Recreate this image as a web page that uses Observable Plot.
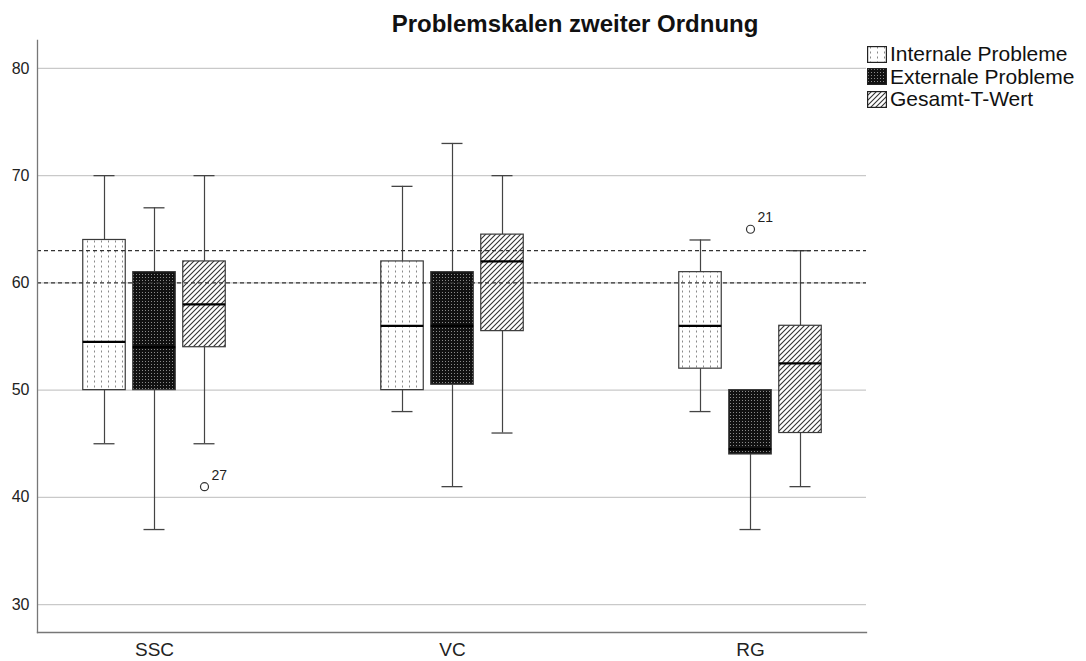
<!DOCTYPE html>
<html>
<head>
<meta charset="utf-8">
<script src="https://cdn.jsdelivr.net/npm/d3@7"></script>
<script src="https://cdn.jsdelivr.net/npm/@observablehq/plot@0.6"></script>
<style>
  body { margin: 0; background: #fff; font-family: "Liberation Sans", Arial, sans-serif; }
  #wrap { position: relative; width: 1086px; height: 661px; overflow: hidden; }
  #title { position: absolute; left: 575px; top: 10px; transform: translateX(-50%); font-size: 24px; font-weight: bold; color: #111; white-space: nowrap; }
  #legend { position: absolute; left: 867px; top: 43px; font-size: 21px; color: #111; }
  #legend .row { display: flex; align-items: center; height: 22.5px; white-space: nowrap; }
  #legend svg { margin-right: 3px; flex: none; }
  #chart { position: absolute; left: 0; top: 0; }
</style>
</head>
<body>
<svg width="0" height="0" style="position:absolute">
  <defs>
    <!-- white with vertical dotted lines -->
    <pattern id="pat-internal" patternUnits="userSpaceOnUse" width="7" height="5">
      <rect width="7" height="5" fill="#fff"></rect>
      <line x1="3.5" y1="0.5" x2="3.5" y2="2.5" stroke="#8a8a8a" stroke-width="1"></line>
    </pattern>
    <!-- black with fine grey dots -->
    <pattern id="pat-external" patternUnits="userSpaceOnUse" width="3" height="3">
      <rect width="3" height="3" fill="#111"></rect>
      <rect x="1" y="1" width="1" height="1" fill="#8a8a8a"></rect>
    </pattern>
    <!-- white with diagonal hatching -->
    <pattern id="pat-total" patternUnits="userSpaceOnUse" width="5" height="5">
      <rect width="5" height="5" fill="#fff"></rect>
      <path d="M-1,6 L6,-1 M-1,1 L1,-1 M4,6 L6,4" stroke="#333" stroke-width="1.1"></path>
    </pattern>
  </defs>
</svg>
<div id="wrap">
  <div id="chart"></div>
  <div id="title">Problemskalen zweiter Ordnung</div>
  <div id="legend"></div>
</div>
<script>
// Groups on the x axis and the three problem scales per group
const groups = ["SSC", "VC", "RG"];
const series = ["Internale Probleme", "Externale Probleme", "Gesamt-T-Wert"];
const patternIds = ["pat-internal", "pat-external", "pat-total"];

// Five-number summaries per group: [lower whisker, Q1, median, Q3, upper whisker]
const internalStats = [[45, 50, 54.5, 64, 70], [48, 50, 56, 62, 69], [48, 52, 56, 61, 64]];
const externalStats = [[37, 50, 54, 61, 67], [41, 50.5, 56, 61, 73], [37, 44, 44.5, 50, 50]];
const totalStats = [[45, 54, 58, 62, 70], [46, 55.5, 62, 64.5, 70], [41, 46, 52.5, 56, 63]];

// Outliers with their case numbers
const outlierGroups = ["SSC", "RG"];
const outlierSeries = ["Gesamt-T-Wert", "Externale Probleme"];
const outlierValues = [41, 65];
const outlierIds = ["27", "21"];

// Axis ticks and dashed cut-off lines
const yTicks = [30, 40, 50, 60, 70, 80];
const gridValues = [30, 40, 50, 60, 70, 80];
const cutoffLines = [60, 63];

const statsBySeries = [internalStats, externalStats, totalStats];
const rows = [];
statsBySeries.forEach((stats, i) => stats.forEach((s, j) => rows.push({
  group: groups[j], series: series[i], lo: s[0], q1: s[1], med: s[2], q3: s[3], hi: s[4]
})));
const outliers = outlierValues.map((v, k) => ({group: outlierGroups[k], series: outlierSeries[k], value: v, id: outlierIds[k]}));

const band = 150;      // width of one group band
const step = 50;       // spacing of boxes in a band
const boxW = 42.5;
const capW = 21;

const marks = [
  Plot.ruleY(gridValues, {stroke: "#c9c9c9", strokeWidth: 1.2})
];

series.forEach((name, i) => {
  const d = rows.filter(r => r.series === name);
  const center = step * i + step / 2;
  const off = center - band / 2;
  const boxL = center - boxW / 2, boxR = band - (center + boxW / 2);
  const capL = center - capW / 2, capR = band - (center + capW / 2);
  marks.push(
    Plot.ruleX(d, {x: "group", y1: "lo", y2: "q1", dx: off, stroke: "#444", strokeWidth: 1.2}),
    Plot.ruleX(d, {x: "group", y1: "q3", y2: "hi", dx: off, stroke: "#444", strokeWidth: 1.2}),
    Plot.tickY(d, {x: "group", y: "lo", insetLeft: capL, insetRight: capR, stroke: "#444", strokeWidth: 1.3}),
    Plot.tickY(d, {x: "group", y: "hi", insetLeft: capL, insetRight: capR, stroke: "#444", strokeWidth: 1.3}),
    Plot.barY(d, {x: "group", y1: "q1", y2: "q3", insetLeft: boxL, insetRight: boxR,
      fill: `url(#${patternIds[i]})`, stroke: "#3a3a3a", strokeWidth: 1.2}),
    Plot.tickY(d, {x: "group", y: "med", insetLeft: boxL, insetRight: boxR, stroke: "#000", strokeWidth: 2.2})
  );
  const o = outliers.filter(r => r.series === name);
  marks.push(
    Plot.dot(o, {x: "group", y: "value", dx: off, r: 4, fill: "#fff", stroke: "#333", strokeWidth: 1.2}),
    Plot.text(o, {x: "group", y: "value", text: "id", dx: off + 7, dy: -7, textAnchor: "start",
      lineAnchor: "bottom", fontSize: 14, fill: "#222"})
  );
});

marks.push(
  Plot.ruleY(cutoffLines, {stroke: "#333", strokeWidth: 1.2, strokeDasharray: "4,3"}),
  Plot.frame({anchor: "left", stroke: "#777", strokeWidth: 1.3}),
  Plot.frame({anchor: "bottom", stroke: "#777", strokeWidth: 1.3}),
  Plot.axisY({ticks: yTicks, tickSize: 0, tickPadding: 8, fontSize: 16, label: null}),
  Plot.axisX({tickSize: 0, tickPadding: 10, fontSize: 19, label: null})
);

const chart = Plot.plot({
  width: 1086,
  height: 661,
  marginLeft: 37,
  marginRight: 220,
  marginTop: 40,
  marginBottom: 29,
  style: {fontFamily: "'Liberation Sans', Arial, sans-serif", color: "#222", background: "transparent"},
  x: {type: "band", domain: groups, paddingInner: 0.4975, paddingOuter: 0.1374},
  y: {domain: [27.4, 82.6]},
  marks
});
document.getElementById("chart").appendChild(chart);

// Legend with the same fill patterns
const legend = d3.select("#legend");
series.forEach((name, i) => {
  const row = legend.append("div").attr("class", "row");
  const sw = row.append("svg").attr("width", 20).attr("height", 17);
  sw.append("rect").attr("x", 0.6).attr("y", 0.6).attr("width", 18.8).attr("height", 15.8)
    .attr("fill", `url(#${patternIds[i]})`).attr("stroke", "#222").attr("stroke-width", 1.2);
  row.append("span").text(name);
});
</script>
</body>
</html>
